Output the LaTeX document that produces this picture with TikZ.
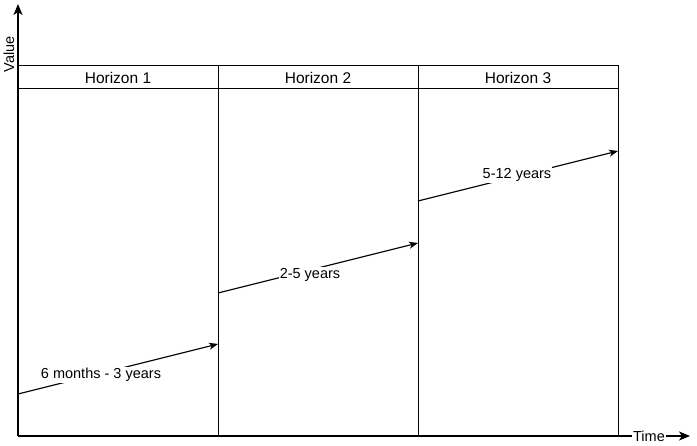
\documentclass[tikz,border=0pt]{standalone}
\usepackage{fontspec}
\setmainfont{Liberation Sans}
\usetikzlibrary{arrows.meta, positioning}

\begin{document}
\begin{tikzpicture}[x=1pt, y=-1pt,
  axis/.style={line width=1.8pt, -{Stealth[length=11pt,width=9pt,inset=3pt]}},
  grid/.style={line width=1pt},
  trend/.style={line width=1.1pt, -{Stealth[length=9pt,width=7pt,inset=2.5pt]}},
  hdr/.style={font=\fontsize{15.5}{18}\selectfont},
  lbl/.style={font=\fontsize{14.5}{17}\selectfont, fill=white, inner sep=1pt}]
  \useasboundingbox (0,0) rectangle (697,446);

  % table with three horizons
  \draw[grid] (18,66) rectangle (618,436);
  \draw[grid] (18,89) -- (618,89);
  \draw[grid] (218,66) -- (218,436);
  \draw[grid] (418,66) -- (418,436);

  \node[hdr] (h1) at (118,77.5) {Horizon 1};
  \node[hdr] (h2) at (318,77.5) {Horizon 2};
  \node[hdr] (h3) at (518,77.5) {Horizon 3};

  % axes
  \coordinate (origin) at (18,436);
  \coordinate (vtop) at (18,4);
  \coordinate (hend) at (690,436);
  \node[rotate=90, font=\fontsize{14.5}{17}\selectfont] (value) at (9,54) {Value};
  \node[lbl] (time) at (649,436) {Time};
  \draw[axis] (origin) -- (vtop);
  \draw[line width=1.8pt] (origin) -- (time.west);
  \draw[axis] (time.east) -- (hend);

  % value over time
  \coordinate (t1s) at (18,394);
  \coordinate (t1e) at (218,344);
  \coordinate (t2s) at (218,293);
  \coordinate (t2e) at (418,243);
  \coordinate (t3s) at (418,201);
  \coordinate (t3e) at (618,151);
  \draw[trend] (t1s) -- (t1e);
  \draw[trend] (t2s) -- (t2e);
  \draw[trend] (t3s) -- (t3e);
  \node[lbl] (l1) at (101,375) {6 months - 3 years};
  \node[lbl] (l2) at (310,275) {2-5 years};
  \node[lbl] (l3) at (517,175) {5-12 years};
\end{tikzpicture}
\end{document}
